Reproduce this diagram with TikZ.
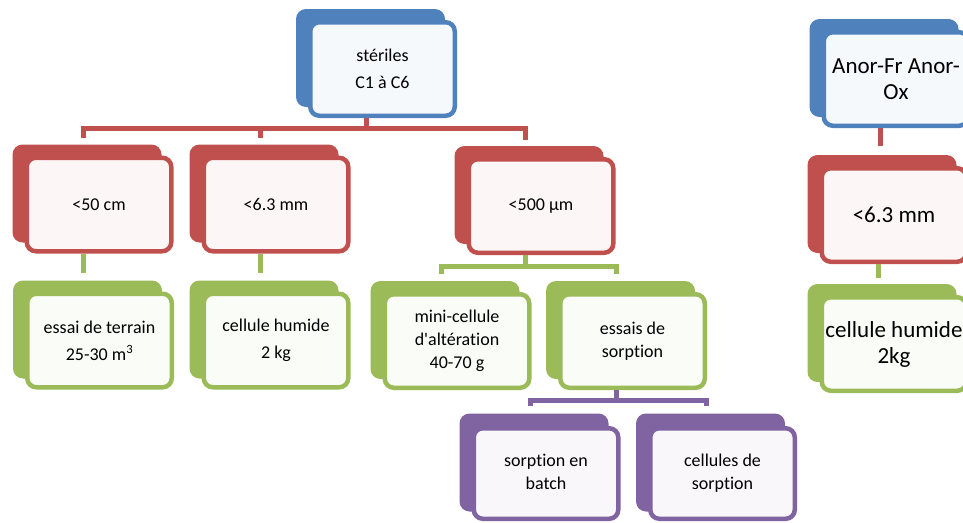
\documentclass[tikz,border=0pt]{standalone}
\usepackage{fontspec}
\setmainfont{Carlito}[Ligatures=NoCommon]
\usetikzlibrary{calc}
\definecolor{cblue}{HTML}{4F81BD}
\definecolor{cred}{HTML}{C0504D}
\definecolor{cgreen}{HTML}{9BBB59}
\definecolor{cpurple}{HTML}{8064A2}
\tikzset{
  frontbox/.style={draw=#1, fill=#1!5!white, line width=4.5pt, rounded corners=9pt,
    minimum width=144.5pt, minimum height=93.5pt, inner sep=0pt, align=center,
    font=\fontsize{18}{27}\selectfont},
  backbox/.style={fill=#1, draw=none, rounded corners=10pt,
    minimum width=149pt, minimum height=98pt, inner sep=0pt},
  bigtext/.style={font=\fontsize{23}{26}\selectfont},
  tight/.style={font=\fontsize{18}{23}\selectfont},
  conn/.style={draw=#1, line width=5pt, line join=miter},
}
\newcommand\smartbox[5][]{%
  \node[backbox=#3] (#2-b) at ($(#4)+(-12,-11)$) {};
  \node[frontbox=#3,#1] (#2) at (#4) {#5};
  \coordinate (#2-c) at ([xshift=-4pt]#2-b.center);
}
\begin{document}
\begin{tikzpicture}[x=1pt,y=-1pt]
\clip (0,0) rectangle (963,522);
\fill[white] (0,0) rectangle (963,522);
% nodes
\smartbox{ster}{cblue}{382.5,69}{stériles\\C1 à C6}
\smartbox{r1}{cred}{99,204.5}{<50 cm}
\smartbox{r2}{cred}{276,204.5}{<6.3 mm}
\smartbox{r3}{cred}{541,206}{<500 µm}
\smartbox{g1}{cgreen}{99.5,340.5}{essai de terrain\\25-30 m\textsuperscript{3}}
\smartbox{g2}{cgreen}{276,340.5}{cellule humide\\2 kg}
\smartbox[tight]{g3}{cgreen}{457,341}{mini-cellule\\d\textquotesingle altération\\40-70 g}
\smartbox[tight]{g4}{cgreen}{632.5,341}{essais de\\sorption}
\smartbox[tight,minimum height=90.5pt]{p1}{cpurple}{546,473.5}{\raisebox{-5pt}{\begin{tabular}{@{}c@{}}sorption en\\batch\end{tabular}}}
\smartbox[tight,minimum height=90.5pt]{p2}{cpurple}{722.5,473.5}{\raisebox{-5pt}{\begin{tabular}{@{}c@{}}cellules de\\sorption\end{tabular}}}
\smartbox[bigtext]{a}{cblue}{896,79}{Anor-Fr Anor-\\Ox}
\smartbox[bigtext]{ar}{cred}{894,215}{<6.3 mm}
\smartbox[bigtext]{ag}{cgreen}{894,344}{cellule humide\\2kg}
% red connectors
\coordinate (rbar) at ($(ster.south)+(0,10)$);
\draw[conn=cred] (ster-c |- ster.south) -- (ster-c |- rbar);
\draw[conn=cred, shorten <=6pt, shorten >=6pt] (r1-c |- r1-b.north) -- (r1-c |- rbar) -- (r3-c |- rbar) -- (r3-c |- r3-b.north);
\draw[conn=cred, shorten >=6pt] (r2-c |- rbar) -- (r2-c |- r2-b.north);
% green stubs
\draw[conn=cgreen, shorten >=7pt] (r1-c |- r1.south) -- (r1-c |- g1-b.north);
\draw[conn=cgreen, shorten >=7pt] (r2-c |- r2.south) -- (r2-c |- g2-b.north);
\coordinate (gbar) at ($(r3.south)+(0,11)$);
\draw[conn=cgreen] (r3-c |- r3.south) -- (r3-c |- gbar);
\draw[conn=cgreen, shorten <=7pt, shorten >=7pt] (g3-c |- g3-b.north) -- (g3-c |- gbar) -- (g4-c |- gbar) -- (g4-c |- g4-b.north);
% purple
\coordinate (pbar) at ($(g4.south)+(0,10)$);
\draw[conn=cpurple] (g4-c |- g4.south) -- (g4-c |- pbar);
\draw[conn=cpurple, shorten <=7pt, shorten >=7pt] (p1-c |- p1-b.north) -- (p1-c |- pbar) -- (p2-c |- pbar) -- (p2-c |- p2-b.north);
% right column
\draw[conn=cred, shorten >=9pt] (a-c |- a.south) -- (a-c |- ar-b.north);
\draw[conn=cgreen, shorten >=6pt] (ar-c |- ar.south) -- (ar-c |- ag-b.north);
\end{tikzpicture}
\end{document}
